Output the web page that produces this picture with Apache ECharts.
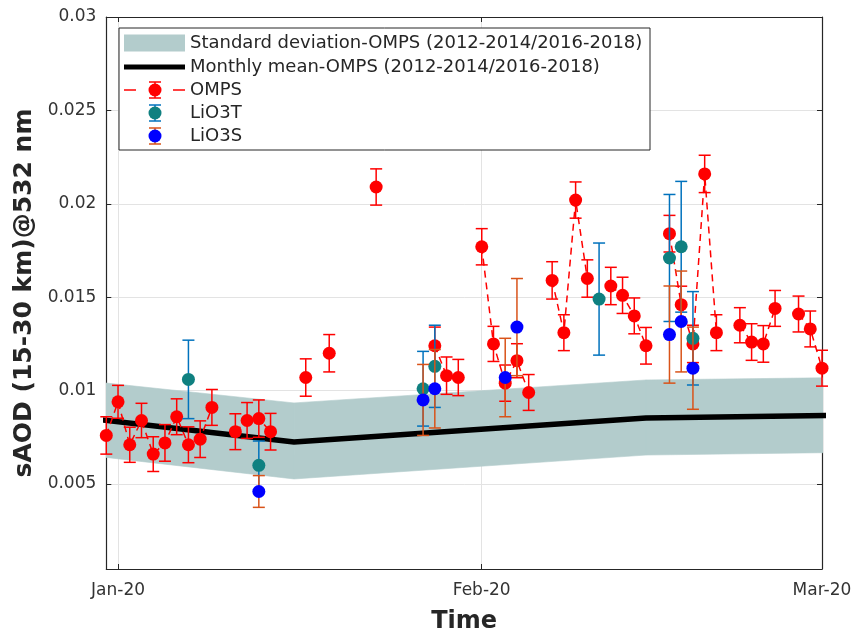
<!DOCTYPE html>
<html><head><meta charset="utf-8">
<script src="https://cdn.jsdelivr.net/npm/echarts@6/dist/echarts.min.js"></script>
<style>html,body{margin:0;padding:0;background:#fff}#c{width:859px;height:634px}</style>
</head><body><div id="c"></div>
<script>
// ---------- data ----------
const ompsDates = ['2019-12-31','2020-01-01','2020-01-02','2020-01-03','2020-01-04','2020-01-05','2020-01-06','2020-01-07','2020-01-08','2020-01-09','2020-01-10',
  '2020-01-11','2020-01-12','2020-01-13','2020-01-14','2020-01-15','2020-01-16','2020-01-17','2020-01-18','2020-01-19','2020-01-20','2020-01-21','2020-01-22',
  '2020-01-23','2020-01-24','2020-01-25','2020-01-26','2020-01-27','2020-01-28','2020-01-29','2020-01-30','2020-01-31',
  '2020-02-01','2020-02-02','2020-02-03','2020-02-04','2020-02-05','2020-02-06','2020-02-07','2020-02-08','2020-02-09','2020-02-10','2020-02-11',
  '2020-02-12','2020-02-13','2020-02-14','2020-02-15','2020-02-16','2020-02-17','2020-02-18','2020-02-19','2020-02-20','2020-02-21','2020-02-22',
  '2020-02-23','2020-02-24','2020-02-25','2020-02-26','2020-02-27','2020-02-28','2020-02-29','2020-03-01'];
const ompsValues = [0.0076,0.0094,0.0071,0.0084,0.0066,0.0072,0.0086,0.0071,0.0074,0.0091,null,
  0.0078,0.0084,0.0085,0.0078,null,null,0.0107,null,0.0120,null,null,null,
  0.0209,null,null,null,null,0.0124,0.0108,0.0107,null,
  0.0177,0.0125,0.0104,0.0116,0.0099,null,0.0159,0.0131,0.0202,0.0160,null,
  0.0156,0.0151,0.0140,0.0124,null,0.0184,0.0146,0.0125,0.0216,0.0131,null,
  0.0135,0.0126,0.0125,0.0144,null,0.0141,0.0133,0.0112];
const ompsErrors = [0.0010,0.00088,0.00094,0.00092,0.00093,0.00098,0.00096,0.00096,0.00098,0.00096,null,
  0.00096,0.00096,0.0010,0.00098,null,null,0.0010,null,0.0010,null,null,null,
  0.00097,null,null,null,null,0.0010,0.0010,0.00097,null,
  0.00097,0.00094,0.00097,0.00091,0.00096,null,0.0010,0.00096,0.00097,0.0010,null,
  0.0010,0.00097,0.00096,0.00098,null,0.00098,0.00099,0.0010,0.0010,0.00096,null,
  0.00094,0.00098,0.00098,0.00096,null,0.00096,0.00096,0.00096];

const lio3tDates  = ['2020-01-07','2020-01-13','2020-01-27','2020-01-28','2020-02-11','2020-02-17','2020-02-18','2020-02-19'];
const lio3tValues = [0.0106,0.0060,0.0101,0.0113,0.0149,0.0171,0.0177,0.0128];
const lio3tErrors = [0.0021,0.0013,0.0020,0.0022,0.0030,0.0034,0.0035,0.0025];

const lio3sDates  = ['2020-01-13','2020-01-27','2020-01-28','2020-02-03','2020-02-04','2020-02-17','2020-02-18','2020-02-19'];
const lio3sValues = [0.0046,0.0095,0.0101,0.0107,0.0134,0.0130,0.0137,0.0112];
const lio3sErrors = [0.00085,0.0019,0.0021,0.0021,0.0026,0.0026,0.0027,0.0022];

const climDates = ['2019-12-16','2020-01-16','2020-02-15','2020-03-16'];
const climMean  = [0.0095,0.00725,0.00853,0.0088];
const climUpper = [0.0114,0.00934,0.01057,0.0108];
const climLower = [0.0075,0.00527,0.00655,0.0068];

const yTickValues = [0.005,0.01,0.015,0.02,0.025,0.03];
const xTickDates  = ['2020-01-01','2020-02-01','2020-03-01'];
const xTickLabels = ['Jan-20','Feb-20','Mar-20'];

const legendLabels = ['Standard deviation-OMPS (2012-2014/2016-2018)','Monthly mean-OMPS (2012-2014/2016-2018)','OMPS','LiO3T','LiO3S'];

// ---------- helpers ----------
const DAY = 86400000;
const T = s => Date.UTC(+s.slice(0,4), +s.slice(5,7)-1, +s.slice(8,10)) / DAY; // days since epoch
const FONT = 'DejaVu Sans';
const C = {red:'#ff0000', teal:'#0f8080', blue:'#0000ff', errBlue:'#0072bd', errOrange:'#d95319', band:'#b3cccc', axis:'#262626', grid:'#e3e3e3'};

function pairs(dates, vals){ return dates.map((d,i)=>[T(d), vals[i]]); }
function errData(dates, vals, errs){
  const out=[]; dates.forEach((d,i)=>{ if(vals[i]!=null) out.push([T(d), vals[i], errs[i]]); }); return out;
}
function errRender(color, cap){
  return function(params, api){
    const x=api.value(0), y=api.value(1), e=api.value(2);
    const a=api.coord([x,y+e]), b=api.coord([x,y-e]);
    const st={stroke:color, lineWidth:1.5};
    return {type:'group', children:[
      {type:'line', shape:{x1:a[0],y1:a[1],x2:b[0],y2:b[1]}, style:st},
      {type:'line', shape:{x1:a[0]-cap,y1:a[1],x2:a[0]+cap,y2:a[1]}, style:st},
      {type:'line', shape:{x1:b[0]-cap,y1:b[1],x2:b[0]+cap,y2:b[1]}, style:st}
    ]};
  };
}
// band segments between consecutive monthly points
const bandSegs = climDates.slice(0,-1).map((d,i)=>[T(d), climLower[i], climUpper[i], T(climDates[i+1]), climLower[i+1], climUpper[i+1]]);
function bandRender(params, api){
  const p0=api.coord([api.value(0), api.value(2)]), p1=api.coord([api.value(3), api.value(5)]);
  const p2=api.coord([api.value(3), api.value(4)]), p3=api.coord([api.value(0), api.value(1)]);
  return {type:'polygon', shape:{points:[p0,p1,p2,p3]}, style:{fill:C.band, stroke:C.band, lineWidth:0.6}};
}

const xTickTimes = xTickDates.map(T);
const xMin = T('2019-12-31'), xMax = T('2020-03-01');
const yMin = 0.00045, yMax = 0.03;

const chart = echarts.init(document.getElementById('c'), null, {renderer:'canvas'});

const commonX = {
  type:'value', min:xMin, max:xMax, scale:true,
  axisLine:{show:true, onZero:false, lineStyle:{color:C.axis, width:1.2}},
  axisTick:{show:true, inside:true, length:5, customValues:xTickTimes, lineStyle:{color:C.axis}},
  splitLine:{show:false}
};
const commonY = {
  type:'value', min:yMin, max:yMax,
  axisLine:{show:true, onZero:false, lineStyle:{color:C.axis, width:1.2}},
  axisTick:{show:true, inside:true, length:5, customValues:yTickValues, lineStyle:{color:C.axis}},
  splitLine:{show:false}
};

const option = {
  animation:false,
  backgroundColor:'#fff',
  textStyle:{fontFamily:FONT},
  grid:{left:106.3, right:37, top:17, bottom:65, containLabel:false, outerBoundsMode:'none'},
  xAxis:[
    Object.assign({}, commonX, {
      position:'bottom',
      name:'Time', nameLocation:'middle', nameGap:41,
      nameTextStyle:{fontFamily:FONT, fontWeight:'bold', fontSize:24, color:C.axis},
      axisLabel:{show:true, customValues:xTickTimes, margin:13, fontSize:17, color:'#333', fontFamily:FONT,
        showMinLabel:true, showMaxLabel:true, hideOverlap:false,
        formatter:v=>{ const i=xTickTimes.indexOf(v); return i>=0?xTickLabels[i]:''; }},
      splitLine:{show:true, lineStyle:{color:C.grid, width:1}}
    }),
    Object.assign({}, commonX, {position:'top', axisLabel:{show:false}})
  ],
  yAxis:[
    Object.assign({}, commonY, {
      position:'left',
      name:'sAOD (15-30 km)@532 nm', nameLocation:'middle', nameGap:68, nameRotate:90,
      nameTextStyle:{fontFamily:FONT, fontWeight:'bold', fontSize:25, color:C.axis},
      axisLabel:{show:true, customValues:yTickValues, margin:10, fontSize:17, color:'#333', fontFamily:FONT,
        formatter:v=>String(+v.toFixed(4))},
      splitLine:{show:true, lineStyle:{color:C.grid, width:1}}
    }),
    Object.assign({}, commonY, {position:'right', axisLabel:{show:false}})
  ],
  series:[
    {name:legendLabels[0], type:'custom', renderItem:bandRender, data:bandSegs, clip:true, silent:true, z:1,
      encode:{x:[0,3], y:[1,2,4,5]}},
    {name:legendLabels[1], type:'line', data:pairs(climDates, climMean), symbol:'none', silent:true,
      lineStyle:{color:'#000', width:5.5}, z:2},
    {name:'ompsErr', type:'custom', renderItem:errRender(C.red,6), data:errData(ompsDates, ompsValues, ompsErrors), z:3, silent:true},
    {name:legendLabels[2], type:'line', data:pairs(ompsDates, ompsValues), connectNulls:false,
      symbol:'circle', symbolSize:13, showAllSymbol:true, itemStyle:{color:C.red},
      lineStyle:{color:C.red, width:1.5, type:[7,5]}, z:3, clip:false},
    {name:'lio3tErr', type:'custom', renderItem:errRender(C.errBlue,6), data:errData(lio3tDates, lio3tValues, lio3tErrors), z:4, silent:true},
    {name:legendLabels[3], type:'scatter', data:pairs(lio3tDates, lio3tValues), symbol:'circle', symbolSize:13,
      itemStyle:{color:C.teal, opacity:1}, z:4},
    {name:'lio3sErr', type:'custom', renderItem:errRender(C.errOrange,6), data:errData(lio3sDates, lio3sValues, lio3sErrors), z:5, silent:true},
    {name:legendLabels[4], type:'scatter', data:pairs(lio3sDates, lio3sValues), symbol:'circle', symbolSize:13,
      itemStyle:{color:C.blue, opacity:1}, z:5}
  ],
  graphic:[]
};

// ---------- legend (drawn) ----------
const L = {x:119, y:28, w:531, h:122, rows:[43,67,90,113,136], ix0:124, ix1:185, mx:155, tx:190};
const g = [];
g.push({type:'rect', shape:{x:L.x, y:L.y, width:L.w, height:L.h}, style:{fill:'#fff', stroke:'#262626', lineWidth:1}, z:100});
g.push({type:'rect', shape:{x:L.ix0, y:L.rows[0]-8.5, width:L.ix1-L.ix0, height:17}, style:{fill:C.band}, z:101});
g.push({type:'line', shape:{x1:L.ix0, y1:L.rows[1], x2:L.ix1, y2:L.rows[1]}, style:{stroke:'#000', lineWidth:5}, z:101});
function errIcon(y, col, ecol, e){
  const st={stroke:ecol, lineWidth:1.5};
  g.push({type:'line', shape:{x1:L.mx, y1:y-e, x2:L.mx, y2:y+e}, style:st, z:101});
  g.push({type:'line', shape:{x1:L.mx-6, y1:y-e, x2:L.mx+6, y2:y-e}, style:st, z:101});
  g.push({type:'line', shape:{x1:L.mx-6, y1:y+e, x2:L.mx+6, y2:y+e}, style:st, z:101});
  g.push({type:'circle', shape:{cx:L.mx, cy:y, r:6.5}, style:{fill:col}, z:102});
}
g.push({type:'line', shape:{x1:L.ix0, y1:L.rows[2], x2:L.ix0+12, y2:L.rows[2]}, style:{stroke:C.red, lineWidth:1.5}, z:101});
g.push({type:'line', shape:{x1:L.ix1-12, y1:L.rows[2], x2:L.ix1, y2:L.rows[2]}, style:{stroke:C.red, lineWidth:1.5}, z:101});
errIcon(L.rows[2], C.red, C.red, 8);
errIcon(L.rows[3], C.teal, C.errBlue, 8);
errIcon(L.rows[4], C.blue, C.errOrange, 8);
legendLabels.forEach((t,i)=>{
  g.push({type:'text', x:L.tx, y:L.rows[i], style:{text:t, fill:'#262626', font:'18px "DejaVu Sans"', textVerticalAlign:'middle', textAlign:'left'}, z:103});
});
option.graphic = g;

chart.setOption(option);
</script>
</body></html>
